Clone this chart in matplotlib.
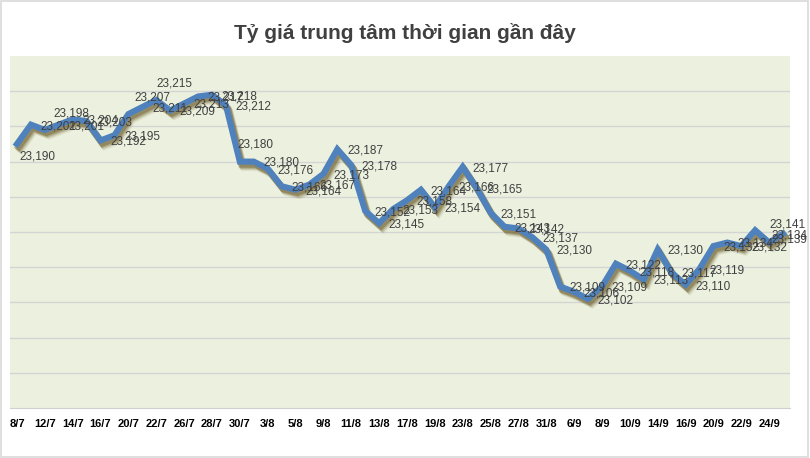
import matplotlib
matplotlib.use("Agg")
import matplotlib.pyplot as plt
import matplotlib.transforms as mtransforms
from matplotlib.patches import Rectangle
import numpy as np

# central rate, one point per working day
DATES = [
    "8/7", "9/7", "12/7", "13/7", "14/7", "15/7", "16/7", "19/7", "20/7", "21/7",
    "22/7", "23/7", "26/7", "27/7", "28/7", "29/7", "30/7", "2/8", "3/8", "4/8",
    "5/8", "6/8", "9/8", "10/8", "11/8", "12/8", "13/8", "16/8", "17/8", "18/8",
    "19/8", "20/8", "23/8", "24/8", "25/8", "26/8", "27/8", "30/8", "31/8", "1/9",
    "6/9", "7/9", "8/9", "9/9", "10/9", "13/9", "14/9", "15/9", "16/9", "17/9",
    "20/9", "21/9", "22/9", "23/9", "24/9", "27/9",
]
RATES = [
    23190, 23201, 23198, 23201, 23204, 23203, 23192, 23195, 23207, 23211,
    23215, 23209, 23213, 23217, 23218, 23212, 23180, 23180, 23176, 23166,
    23164, 23167, 23173, 23187, 23178, 23152, 23145, 23153, 23158, 23164,
    23154, 23166, 23177, 23165, 23151, 23143, 23142, 23137, 23130, 23109,
    23106, 23102, 23109, 23122, 23118, 23113, 23130, 23117, 23110, 23119,
    23132, 23134, 23132, 23141, 23134, 23139,
]
TITLE = "Tỷ giá trung tâm thời gian gần đây"

LINE_C = "#4f81bd"
SHADOW_C = "#6b5a26"
BG_C = "#ebf1de"
GRID_C = "#d4d4d4"
TXT_C = "#404040"
FONT = ["Liberation Sans Narrow", "Liberation Sans", "DejaVu Sans"]

fig = plt.figure(figsize=(8.10, 4.58), dpi=100)
fig.patch.set_facecolor("white")
ax = fig.add_axes([10 / 810, 50 / 458, 780 / 810, 352 / 458])
ax.set_facecolor(BG_C)

xs = np.arange(len(RATES))

# soft shadow under the line
for dx, dy, a in [(1.2, -2.0, 0.40), (1.8, -2.8, 0.28), (2.4, -3.6, 0.18), (3.0, -4.4, 0.10)]:
    tr = mtransforms.offset_copy(ax.transData, fig=fig, x=dx, y=dy, units="points")
    ax.plot(xs, RATES, color=SHADOW_C, lw=4.8, alpha=a, transform=tr,
            solid_joinstyle="miter", zorder=2)
ax.plot(xs, RATES, color=LINE_C, lw=4.4, solid_joinstyle="miter", zorder=3)

# data labels, mostly to the right of the point
special = {0: (2, -9), 2: (6, 12), 8: (4, 12), 10: (0, 12), 16: (-2, 12),
           53: (10, 4), 54: (2, 5), 55: (-8, -4)}
for i, v in enumerate(RATES):
    dx, dy = special.get(i, (7, -1))
    ax.annotate(f"{v:,}", (xs[i], v), xytext=(dx, dy), textcoords="offset points",
                ha="left", va="center", fontsize=8.5, color=TXT_C, family=FONT,
                zorder=4, annotation_clip=False)

ax.set_xlim(-0.5, len(RATES) - 0.5)
ax.set_ylim(23040, 23240)
ax.set_yticks(np.arange(23060, 23240, 20))
ax.yaxis.grid(True, color=GRID_C, lw=1.0)
ax.set_axisbelow(True)
ax.tick_params(axis="y", left=False, labelleft=False)
ax.set_xticks(xs[::2])
ax.set_xticklabels(DATES[::2], fontsize=8, fontweight="bold", color="black", family=FONT)
ax.tick_params(axis="x", length=0, pad=8)
for s in ["left", "right", "top"]:
    ax.spines[s].set_visible(False)
ax.spines["bottom"].set_color("#d0d0d0")

fig.text(0.5, 1 - 33 / 458, TITLE, ha="center", va="center", fontsize=15,
         fontweight="bold", color=TXT_C, family=FONT)

fig.patches.append(Rectangle((0.001, 0.002), 0.997, 0.996, transform=fig.transFigure,
                             fill=False, edgecolor="#d9d9d9", lw=1.2))

fig.savefig("out.png", dpi=100)
